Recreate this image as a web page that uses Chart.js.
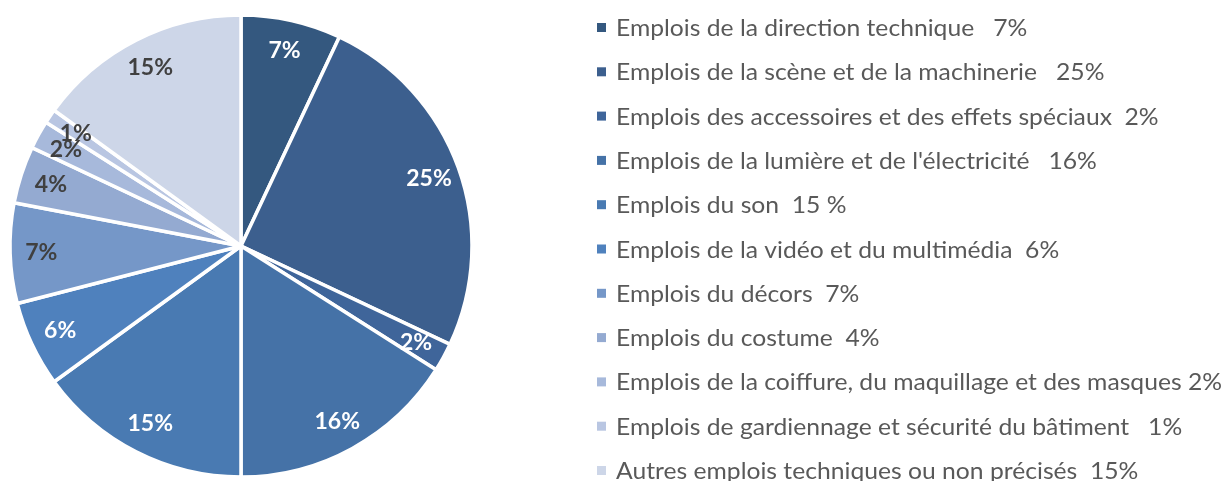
<!DOCTYPE html>
<html>
<head>
<meta charset="utf-8">
<script src="https://cdn.jsdelivr.net/npm/chart.js@4/dist/chart.umd.min.js"></script>
<style>
  html, body { margin: 0; padding: 0; background: #fff; }
  #wrap { width: 1231px; height: 481px; position: relative; }
</style>
</head>
<body>
<div id="wrap"><canvas id="pieChart" width="1231" height="481"></canvas></div>
<script>
// Data
const categories = [
    "Emplois de la direction technique   7%",
    "Emplois de la scène et de la machinerie   25%",
    "Emplois des accessoires et des effets spéciaux  2%",
    "Emplois de la lumière et de l'électricité   16%",
    "Emplois du son  15 %",
    "Emplois de la vidéo et du multimédia  6%",
    "Emplois du décors  7%",
    "Emplois du costume  4%",
    "Emplois de la coiffure, du maquillage et des masques 2%",
    "Emplois de gardiennage et sécurité du bâtiment   1%",
    "Autres emplois techniques ou non précisés  15%"
];
const values = [7, 25, 2, 16, 15, 6, 7, 4, 2, 1, 15];
const sliceColors = [
    "#34587f", "#3c5f8e", "#3f659a", "#4572a7", "#497ab2", "#4f81bd",
    "#7597c8", "#94aad1", "#a7b9db", "#b9c6e2", "#cdd6e8"
];
const labelColors = [
    "#ffffff", "#ffffff", "#ffffff", "#ffffff", "#ffffff", "#ffffff",
    "#404040", "#404040", "#404040", "#404040", "#404040"
];

// Percent labels inside the slices
const sliceLabels = {
    id: "sliceLabels",
    afterDatasetsDraw(chart) {
        const { ctx } = chart;
        const meta = chart.getDatasetMeta(0);
        ctx.save();
        ctx.font = "bold 23px Lato";
        ctx.textAlign = "center";
        ctx.textBaseline = "middle";
        meta.data.forEach((arc, i) => {
            const mid = (arc.startAngle + arc.endAngle) / 2;
            const r = arc.outerRadius * 0.865;
            const x = arc.x + Math.cos(mid) * r;
            const y = arc.y + Math.sin(mid) * r;
            ctx.fillStyle = labelColors[i];
            ctx.fillText(values[i] + "%", x, y);
        });
        ctx.restore();
    }
};

// Legend on the right, one entry per line
const sideLegend = {
    id: "sideLegend",
    afterDraw(chart) {
        const { ctx } = chart;
        const left = 597, textX = 616, firstBase = 36, step = 44.3, maxW = 606;
        ctx.save();
        ctx.font = "23.5px Lato";
        const widest = Math.max(...categories.map(t => ctx.measureText(t).width));
        const sx = Math.min(1.2, maxW / widest);
        categories.forEach((text, i) => {
            const base = firstBase + i * step;
            ctx.fillStyle = sliceColors[i];
            ctx.fillRect(left, base - 13, 9, 9);
            ctx.fillStyle = "#595959";
            ctx.save();
            ctx.translate(textX, base);
            ctx.scale(sx, 1);
            ctx.textBaseline = "alphabetic";
            ctx.fillText(text, 0, 0);
            ctx.restore();
        });
        ctx.restore();
    }
};

new Chart(document.getElementById("pieChart").getContext("2d"), {
    type: "pie",
    data: {
        labels: categories,
        datasets: [{
            data: values,
            backgroundColor: sliceColors,
            borderColor: "#ffffff",
            borderWidth: 3.5,
            radius: 231
        }]
    },
    options: {
        responsive: false,
        animation: false,
        layout: { padding: { top: 11, left: 0, right: 749, bottom: 0 } },
        plugins: {
            legend: { display: false },
            tooltip: { enabled: false }
        }
    },
    plugins: [sliceLabels, sideLegend]
});
</script>
</body>
</html>
